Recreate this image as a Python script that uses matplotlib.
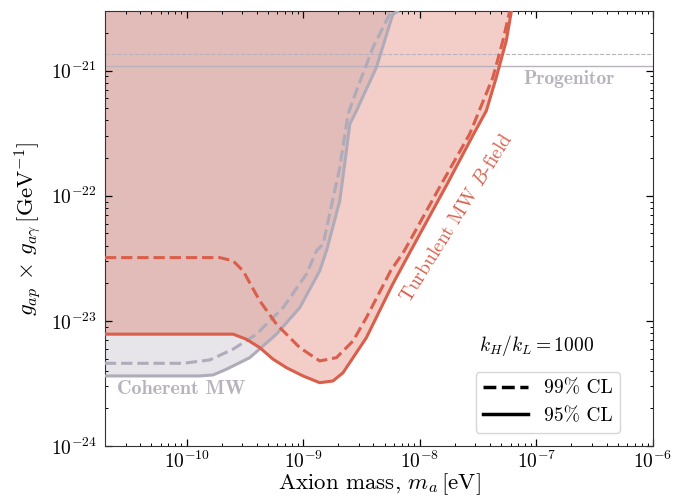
import numpy as np
import matplotlib
matplotlib.use("Agg")
import matplotlib.pyplot as plt
from matplotlib.lines import Line2D
from matplotlib.ticker import NullFormatter

plt.rcParams['font.family'] = 'serif'
plt.rcParams['font.serif'] = ['cmr10']
plt.rcParams['mathtext.fontset'] = 'cm'
plt.rcParams['axes.formatter.use_mathtext'] = True
plt.rcParams['axes.unicode_minus'] = False

# ---- data (log10 values) ----
# Turbulent MW B-field, 95% CL (solid red)
turb95_logm = [-10.70, -9.601, -9.486, -9.372, -9.258, -9.143, -9.001, -8.858, -8.744,
               -8.658, -8.458, -8.232, -8.078, -7.765, -7.538, -7.429, -7.344, -7.258, -7.215]
turb95_logg = [-23.106, -23.106, -23.147, -23.214, -23.306, -23.374, -23.44, -23.494, -23.48,
               -23.414, -23.134, -22.706, -22.44, -21.906, -21.506, -21.32, -21.054, -20.76, -20.528]
# Turbulent MW B-field, 99% CL (dashed red)
turb99_logm = [-10.70, -9.715, -9.601, -9.515, -9.372, -9.229, -9.029, -8.858, -8.715,
               -8.572, -8.458, -8.25, -8.133, -7.815, -7.572, -7.373, -7.287, -7.23]
turb99_logg = [-22.494, -22.494, -22.52, -22.6, -22.84, -23.026, -23.214, -23.32, -23.294,
               -23.16, -22.974, -22.6, -22.44, -21.906, -21.506, -21.054, -20.76, -20.528]
# Coherent MW, 95% CL (solid gray)
coh95_logm = [-10.70, -9.886, -9.772, -9.657, -9.458, -9.229, -9.029, -8.858, -8.8,
              -8.686, -8.629, -8.6, -8.543, -8.372, -8.23, -8.19]
coh95_logg = [-23.44, -23.44, -23.432, -23.386, -23.294, -23.106, -22.894, -22.6, -22.44,
              -22.04, -21.64, -21.426, -21.32, -20.974, -20.546, -20.528]
# Coherent MW, 99% CL (dashed gray)
coh99_logm = [-10.70, -10.029, -9.8, -9.601, -9.4, -9.172, -8.972, -8.886, -8.829,
              -8.686, -8.615, -8.543, -8.401, -8.258, -8.24]
coh99_logg = [-23.339, -23.339, -23.312, -23.226, -23.106, -22.894, -22.626, -22.44, -22.386,
              -21.774, -21.346, -21.16, -20.814, -20.546, -20.528]
# Progenitor bounds
prog95 = 1.09e-21
prog99 = 1.36e-21

xlim = (2e-11, 1e-6)
ylim = (1e-24, 3e-21)

red = '#d95f4b'
gray = '#b0abb9'
gtext = '#b7b2bb'

fig = plt.figure(figsize=(6.75, 5), dpi=100)
ax = fig.add_axes([0.1556, 0.108, 0.8118, 0.870])
ax.set_xscale('log')
ax.set_yscale('log')

def arr(v):
    return 10 ** np.array(v)

top = 1e-19
ax.fill_between(arr(coh95_logm), arr(coh95_logg), top, color=gray, alpha=0.3, lw=0, zorder=1)
ax.fill_between(arr(turb95_logm), arr(turb95_logg), top, color=red, alpha=0.3, lw=0, zorder=1.1)

ax.plot(arr(coh95_logm), arr(coh95_logg), color=gray, lw=2.2, zorder=3)
ax.plot(arr(coh99_logm), arr(coh99_logg), color=gray, lw=2.2, ls='--', zorder=3)
ax.plot(arr(turb95_logm), arr(turb95_logg), color=red, lw=2.2, zorder=4)
ax.plot(arr(turb99_logm), arr(turb99_logg), color=red, lw=2.2, ls='--', zorder=4)

ax.axhline(prog95, color=gtext, lw=1.0, zorder=2)
ax.axhline(prog99, color=gtext, lw=0.8, ls='--', zorder=2)

ax.set_xlim(*xlim)
ax.set_ylim(*ylim)

ax.text(10 ** -6.716, 10 ** -21.07, 'Progenitor', family='cmb10', color=gtext,
        fontsize=14, ha='center', va='center')
ax.text(10 ** -10.597, 10 ** -23.544, 'Coherent MW', family='cmb10', color=gtext,
        fontsize=14.5, ha='left', va='center')
ax.text(10 ** -7.685, 10 ** -22.18, r'Turbulent MW $B$-field', color=red,
        fontsize=14, ha='center', va='center', rotation=58, rotation_mode='anchor')

ax.text(0.788, 0.232, r'$k_H/k_L = 1000$', transform=ax.transAxes, fontsize=14,
        ha='center', va='center')
handles = [Line2D([], [], color='k', lw=2.5, ls='--'),
           Line2D([], [], color='k', lw=2.5, ls='-')]
leg = ax.legend(handles, ['99% CL', '95% CL'], loc='lower right',
                bbox_to_anchor=(0.94, 0.03), borderaxespad=0, fontsize=14,
                handlelength=2.3, frameon=True, fancybox=True)
leg.get_frame().set_edgecolor('#cccccc')

ax.tick_params(which='both', direction='in', top=True, right=True)
ax.tick_params(which='major', length=5, width=0.9, labelsize=14)
ax.tick_params(axis='x', which='major', pad=3)
ax.tick_params(axis='y', which='major', pad=6)
ax.tick_params(which='minor', length=2.5, width=0.7)
ax.xaxis.set_minor_formatter(NullFormatter())
ax.yaxis.set_minor_formatter(NullFormatter())
for s in ax.spines.values():
    s.set_color('#333333')

ax.set_xlabel(r'Axion mass, $m_a\,[\mathrm{eV}]$', fontsize=16.5, labelpad=0)
ax.set_ylabel(r'$g_{ap}\,\times\,g_{a\gamma}\,[\mathrm{GeV}^{-1}]$', fontsize=16.5, labelpad=5)

fig.savefig('out.png', dpi=100)
